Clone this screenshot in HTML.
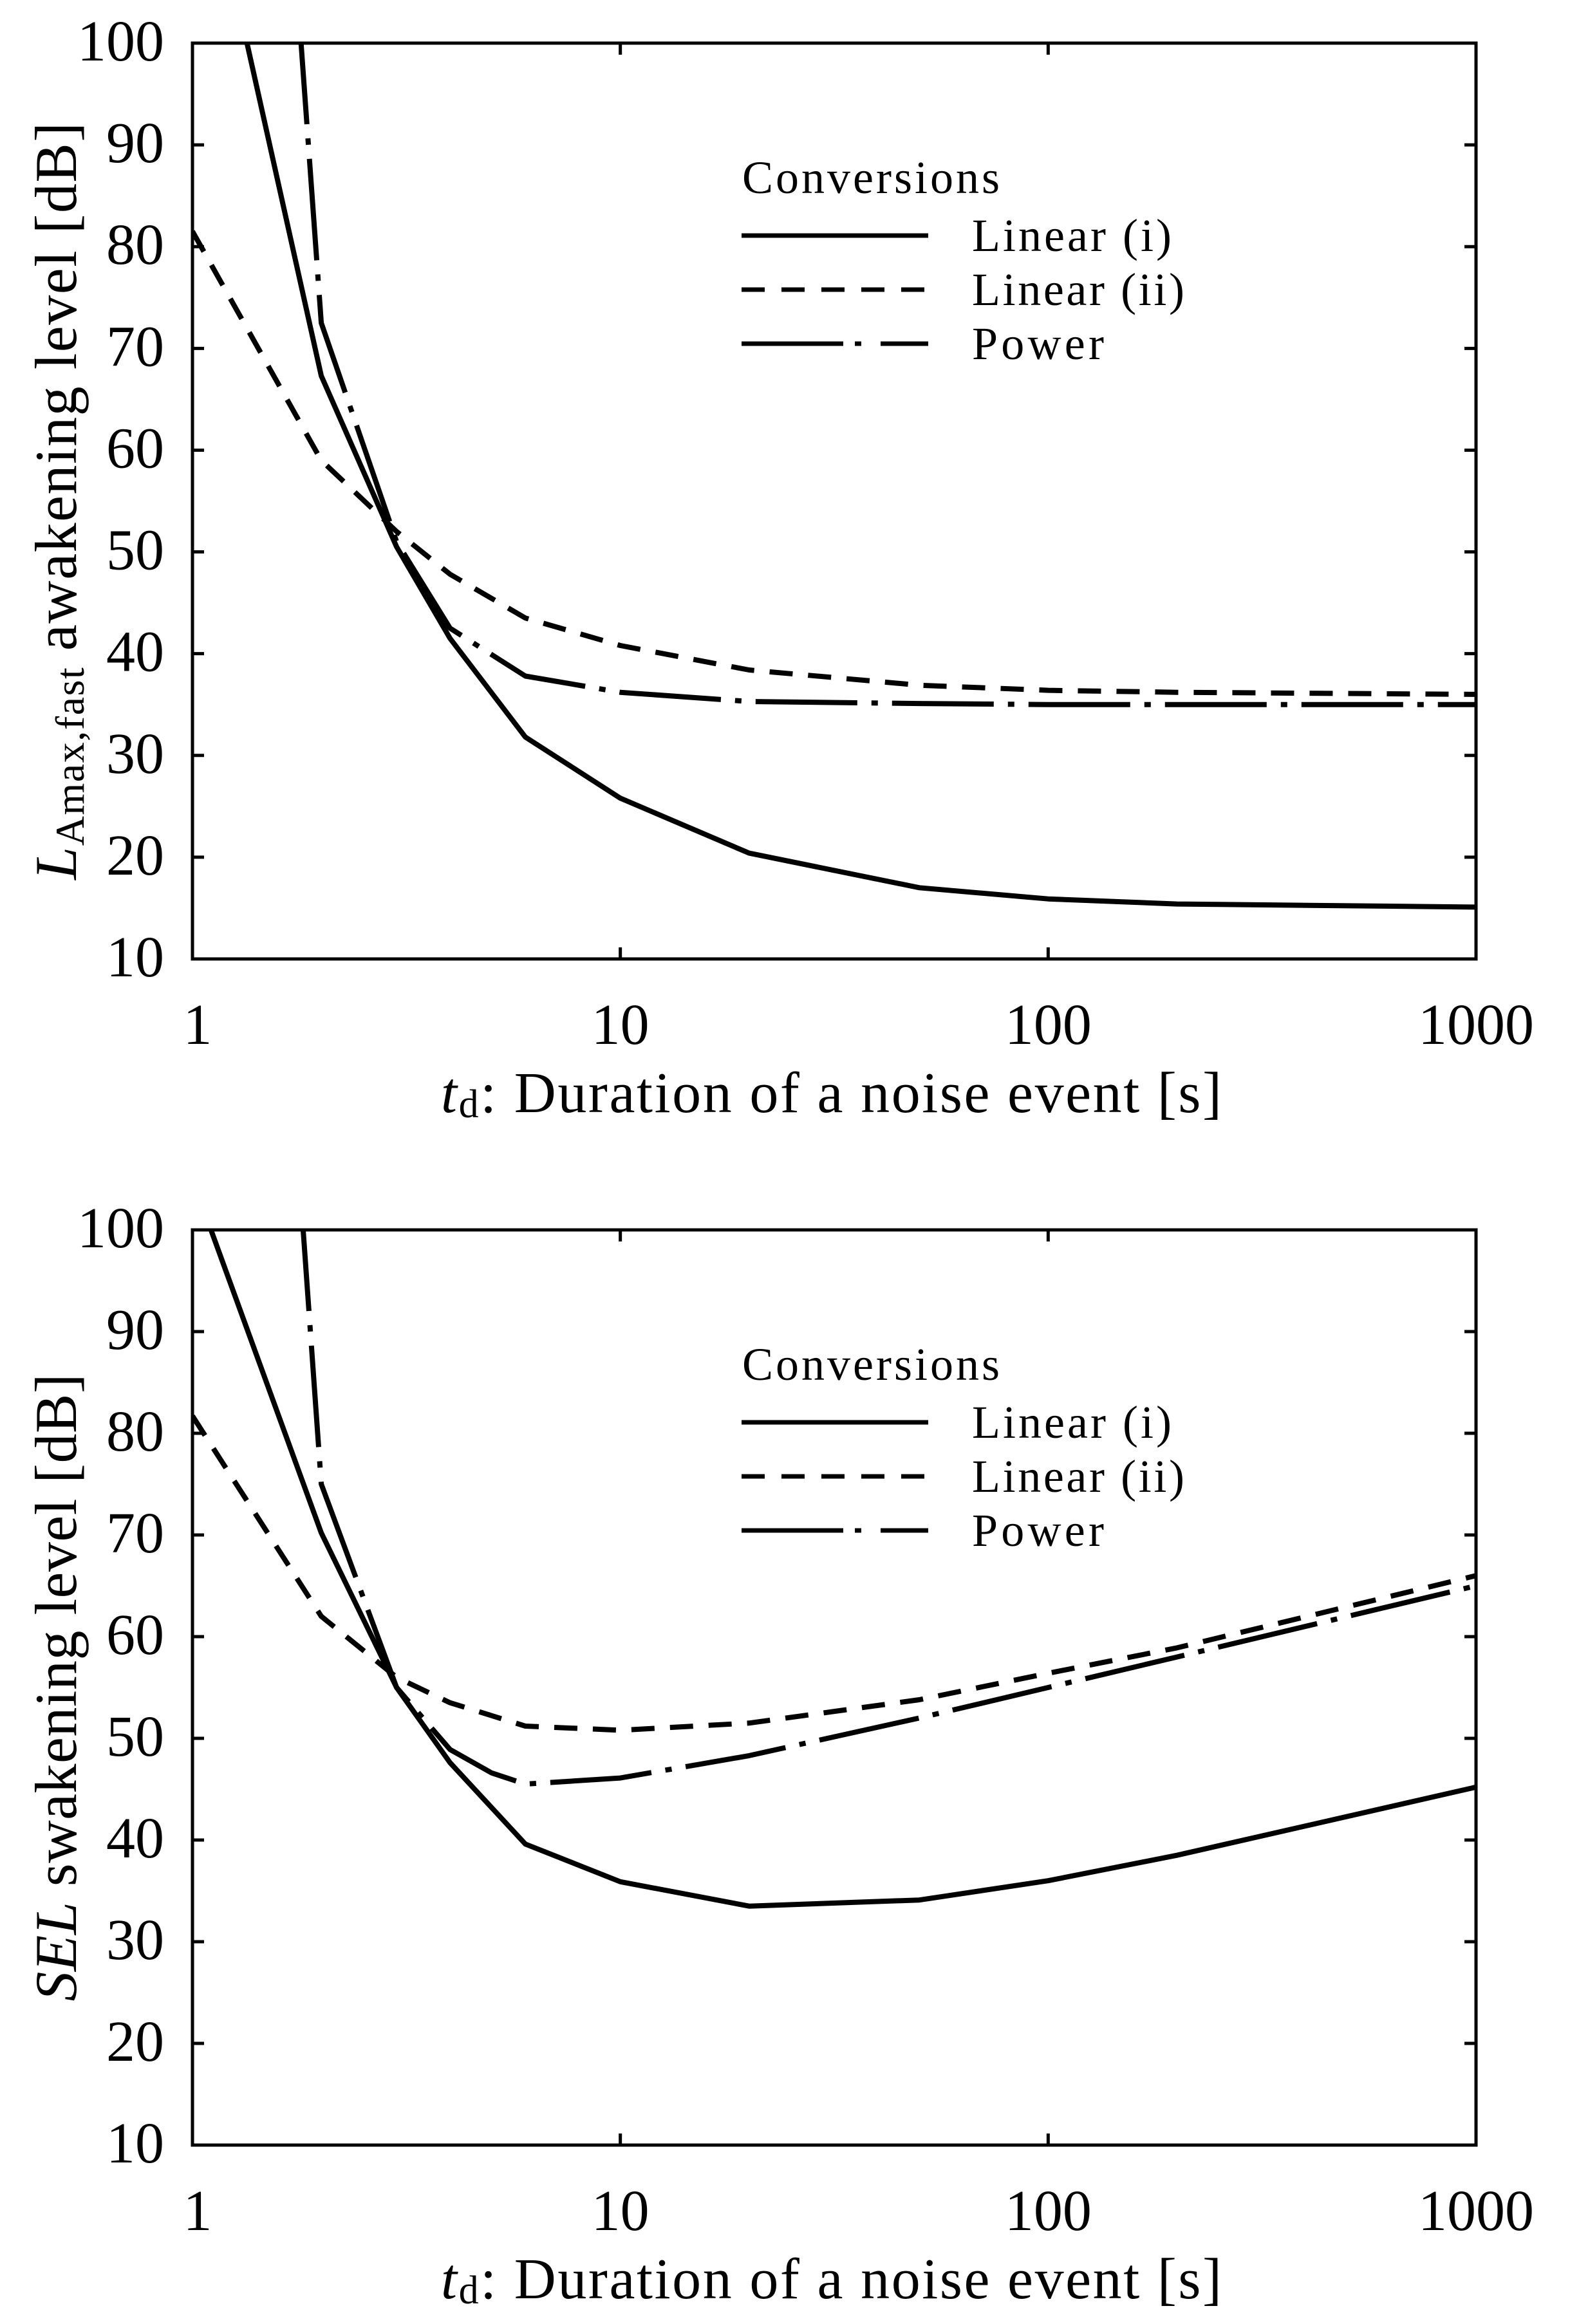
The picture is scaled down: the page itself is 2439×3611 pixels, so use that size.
<!DOCTYPE html>
<html><head><meta charset="utf-8"><style>
html,body{margin:0;padding:0;background:#fff;}
svg{display:block;font-family:"Liberation Serif",serif;}
</style></head><body>
<svg id="chart" width="2439" height="3611" viewBox="0 0 2439 3611" xmlns="http://www.w3.org/2000/svg">
<defs>
<clipPath id="clipTop"><rect x="299" y="67" width="1994" height="1423"/></clipPath>
<clipPath id="clipBot"><rect x="299" y="1911" width="1994" height="1422"/></clipPath>
</defs>
<g id="top"></g>
<g id="bot"></g>
</svg>
<script>
// shared axis data
const xTicks = [1, 10, 100, 1000];
const xTickLabels = ["1", "10", "100", "1000"];
const yTicks = [10, 20, 30, 40, 50, 60, 70, 80, 90, 100];
const yTickLabels = ["10","20","30","40","50","60","70","80","90","100"];
const seriesNames = ["Linear (i)", "Linear (ii)", "Power"];

// top panel (LAmax,fast)
const topLin1T = [1, 2, 3, 4, 6, 10, 20, 50, 100, 200, 1000];
const topLin1V = [124, 67.3, 50.5, 41.5, 31.8, 25.8, 20.4, 17.0, 15.9, 15.4, 15.1];
const topLin2T = [1, 2, 3, 4, 6, 10, 20, 50, 100, 200, 1000];
const topLin2V = [81.5, 59, 52, 47.8, 43.5, 40.8, 38.4, 36.9, 36.4, 36.2, 36.0];
const topPowT = [1.78, 2, 3, 4, 6, 10, 20, 50, 100, 1000];
const topPowV = [102, 72.5, 51, 42.5, 37.8, 36.2, 35.3, 35.1, 35.0, 35.0];

// bottom panel (SEL)
const botLin1T = [1, 2, 3, 4, 6, 10, 20, 50, 100, 200, 1000];
const botLin1V = [105, 70.2, 55, 47.6, 39.6, 35.9, 33.5, 34.1, 36.0, 38.5, 45.2];
const botLin2T = [1, 2, 3, 4, 6, 10, 20, 50, 100, 200, 1000];
const botLin2V = [81.7, 62, 56, 53.5, 51.2, 50.8, 51.5, 53.8, 56.4, 58.9, 66.0];
const botPowT = [1.8, 2, 3, 4, 5, 6, 10, 20, 50, 100, 200, 1000];
const botPowV = [102, 75, 55, 48.9, 46.6, 45.5, 46.1, 48.3, 52, 55, 58, 65];

const NS = "http://www.w3.org/2000/svg";
const X0 = 299, X1 = 2293;
function xScale(t){ return X0 + (Math.log10(t) / 3) * (X1 - X0); }
function mk(tag, attrs, parent){
  const e = document.createElementNS(NS, tag);
  for (const k in attrs) e.setAttribute(k, attrs[k]);
  parent.appendChild(e);
  return e;
}
const dashes = ["", "36 24", "158 22 10 22"];

function panel(g, top, bottom, clipId, series, ylabelParts){
  const yScale = v => bottom - (v - 10) / 90 * (bottom - top);
  // ticks
  yTicks.forEach((v, i) => {
    const y = yScale(v);
    if (v !== 10 && v !== 100) {
      const t1 = mk("line", {x1:X0, x2:X0+18, y1:y, y2:y, stroke:"#000","stroke-width":5}, g);
      
      
      const t2 = mk("line", {x1:X1-18, x2:X1, y1:y, y2:y, stroke:"#000","stroke-width":5}, g);
      
      
    }
    const lab = mk("text", {x:255, y:y+27, "text-anchor":"end", "font-size":90}, g);
    lab.textContent = yTickLabels[i];
    
    
  });
  xTicks.forEach((t, i) => {
    const x = xScale(t);
    if (t !== 1 && t !== 1000) {
      const t1 = mk("line", {x1:x, x2:x, y1:bottom, y2:bottom-18, stroke:"#000","stroke-width":5}, g);
      
      
      const t2 = mk("line", {x1:x, x2:x, y1:top, y2:top+18, stroke:"#000","stroke-width":5}, g);
      
      
    }
    const lab = mk("text", {x:x + (i===0?8:0), y:bottom+132, "text-anchor":"middle", "font-size":90}, g);
    lab.textContent = xTickLabels[i];
    
    
  });
  // series
  const cg = mk("g", {"clip-path":"url(#"+clipId+")"}, g);
  series.forEach((s, k) => {
    const d = s.t.map((t, i) => (i ? "L" : "M") + xScale(t).toFixed(1) + "," + yScale(s.v[i]).toFixed(1)).join(" ");
    const p = mk("path", {d:d, fill:"none", stroke:"#000", "stroke-width":8, "stroke-linejoin":"round"}, cg);
    if (dashes[k]) p.setAttribute("stroke-dasharray", dashes[k]);
    
    
  });
  // frame
  const fr = mk("rect", {x:X0, y:top, width:X1-X0, height:bottom-top, fill:"none", stroke:"#000", "stroke-width":5}, g);
  
  
  // legend
  const ly = top + 233;
  const lt = mk("text", {x:1153, y:ly, "font-size":72, textLength:400, lengthAdjust:"spacing"}, g);
  lt.textContent = "Conversions";
  
  
  seriesNames.forEach((nm, k) => {
    const yy = top + 299 + k * 84;
    const ln = mk("line", {x1:1152, x2:1442, y1:yy, y2:yy, stroke:"#000", "stroke-width":7}, g);
    if (dashes[k]) ln.setAttribute("stroke-dasharray", k===1 ? "36 26" : "158 18 10 30");
    
    
    const tx = mk("text", {x:1510, y:yy+24, "font-size":72, textLength:[310,330,205][k], lengthAdjust:"spacing"}, g);
    tx.textContent = nm;
    
    
  });
  // x title
  const xt = mk("text", {x:685, y:bottom+238, "font-size":90, textLength:1213, lengthAdjust:"spacing"}, g);
  
  
  const a = mk("tspan", {"font-style":"italic"}, xt); a.textContent = "t";
  const b = mk("tspan", {"font-size":62, dy:8}, xt); b.textContent = "d";
  const c = mk("tspan", {dy:-8}, xt); c.textContent = ": Duration of a noise event [s]";
  // y title
  const cy = (top + bottom) / 2;
  const yt = mk("text", {x:0, y:0, "font-size":92, "text-anchor":"middle", transform:"translate(118," + cy + ") rotate(-90)", textLength:ylabelParts.len, lengthAdjust:"spacing"}, g);
  
  
  ylabelParts.parts.forEach(p => {
    const s = mk("tspan", p.a, yt); s.textContent = p.t;
  });
}

panel(document.getElementById("top"), 67, 1490, "clipTop",
  [{t:topLin1T, v:topLin1V}, {t:topLin2T, v:topLin2V}, {t:topPowT, v:topPowV}],
  {len:1177, parts:[{t:"L", a:{"font-style":"italic"}}, {t:"Amax,fast", a:{"font-size":64, dy:12}}, {t:" awakening level [dB]", a:{dy:-12}}]});
panel(document.getElementById("bot"), 1911, 3333, "clipBot",
  [{t:botLin1T, v:botLin1V}, {t:botLin2T, v:botLin2V}, {t:botPowT, v:botPowV}],
  {len:975, parts:[{t:"SEL", a:{"font-style":"italic"}}, {t:" swakening level [dB]", a:{}}]});
</script>
</body></html>
